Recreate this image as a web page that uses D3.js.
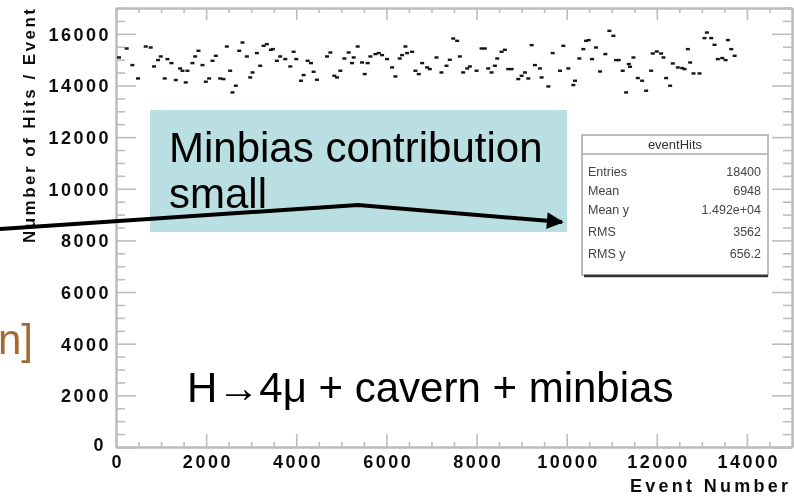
<!DOCTYPE html>
<html>
<head>
<meta charset="utf-8">
<script src="https://cdn.jsdelivr.net/npm/d3@7"></script>
<style>
  html, body { margin: 0; padding: 0; background: #fff; }
  svg { display: block; }
</style>
</head>
<body>
<svg id="chart" width="794" height="497"></svg>
<script>
// Event-by-event hit counts (event number, hits in that event)
const eventNumber = [
  67, 237, 363, 489, 659, 770, 844, 933, 993, 1081, 1141, 1230, 1326, 1422, 1474, 1548, 1585, 1696, 1756, 1830,
  1919, 1993, 2067, 2141, 2215, 2311, 2385, 2459, 2533, 2585, 2659, 2733, 2807, 2904, 2978, 3030, 3126, 3200, 3274, 3348,
  3437, 3482, 3570, 3644, 3756, 3867, 3941, 4000, 4104, 4163, 4252, 4326, 4385, 4459, 4682, 4756, 4844, 4904, 4978, 5067,
  5163, 5237, 5274, 5363, 5459, 5519, 5585, 5644, 5756, 5830, 5904, 6015, 6126, 6200, 6296, 6348, 6422, 6459, 6570, 6644,
  6718, 6793, 6904, 6963, 7111, 7222, 7333, 7407, 7482, 7570, 7630, 7704, 7793, 7852, 8000, 8111, 8185, 8259, 8333, 8407,
  8459, 8556, 8630, 8704, 8778, 8926, 9000, 9074, 9148, 9222, 9296, 9407, 9444, 9593, 9689, 9852, 9926, 10037, 10148, 10185,
  10281, 10370, 10430, 10489, 10563, 10652, 10741, 10859, 10948, 11037, 11096, 11156, 11244, 11319, 11378, 11407, 11481, 11578, 11674, 11763,
  11874, 11911, 12000, 12096, 12148, 12207, 12296, 12356, 12467, 12563, 12615, 12689, 12741, 12815, 12948, 13059, 13111, 13207, 13281, 13355,
  13452, 13526, 13578, 13652, 13726
];
const hitsPerEvent = [
  15084, 15432, 14790, 14272, 15509, 15470, 14736, 14983, 15123, 14272, 15022, 14867, 14210, 14659, 14570, 14118, 14570, 14867, 15123, 15343,
  14790, 14145, 14272, 14956, 15149, 14272, 14248, 15509, 14570, 13731, 13990, 15343, 15664, 15123, 14311, 14504, 15254, 14763, 15536, 15600,
  15381, 15408, 14956, 15123, 15022, 14736, 15304, 15022, 14183, 14403, 14956, 14867, 14531, 14222, 15123, 15277, 14376, 14311, 14570, 15045,
  15277, 14867, 15084, 15509, 14890, 14442, 14867, 15123, 15215, 15254, 15176, 15022, 14698, 14350, 15045, 15176, 15509, 15254, 15304, 14570,
  14442, 14867, 14698, 14635, 15084, 14504, 14763, 14995, 15818, 15729, 15123, 14504, 14659, 14736, 14570, 15432, 15432, 14659, 14504, 14763,
  15045, 15304, 15381, 14635, 14635, 14248, 14376, 14504, 14272, 15562, 14790, 14659, 14311, 13963, 15254, 14570, 15536, 14659, 14017, 14183,
  15045, 15408, 15729, 15756, 15022, 15470, 14543, 15215, 16116, 15922, 14983, 14983, 14570, 13731, 14829, 14724, 15084, 14287, 14183, 13797,
  14570, 15238, 15316, 15238, 15084, 14287, 13990, 14852, 14698, 14674, 14635, 15408, 14890, 14465, 14465, 15834, 16050, 15834, 15575, 15022,
  15061, 14983, 15756, 15408, 15149
];

// Axis tick values and labels
const xMajorTicks = [0, 2000, 4000, 6000, 8000, 10000, 12000, 14000];
const xTickLabels = ["0", "2000", "4000", "6000", "8000", "10000", "12000", "14000"];
const yMajorTicks = [0, 2000, 4000, 6000, 8000, 10000, 12000, 14000, 16000];
const yTickLabels = ["0", "2000", "4000", "6000", "8000", "10000", "12000", "14000", "16000"];

// Statistics box
const statTitle = "eventHits";
const statNames = ["Entries", "Mean", "Mean y", "RMS", "RMS y"];
const statValues = ["18400", "6948", "1.492e+04", "3562", "656.2"];

// Annotations
const noteText = ["Minbias contribution", "small"];
const processText = "H\u21924\u03bc + cavern + minbias";
const cutText = "n]";

const svg = d3.select("#chart");

const frame = { left: 116, right: 792, top: 8, bottom: 447 };
const x = d3.scaleLinear().domain([0, 15000]).range([frame.left, frame.right]);
const y = d3.scaleLinear().domain([0, 17000]).range([frame.bottom, frame.top]);

const defs = svg.append("defs");
defs.append("filter").attr("id", "soft")
  .attr("x", "-5%").attr("y", "-5%").attr("width", "110%").attr("height", "110%")
  .append("feGaussianBlur").attr("stdDeviation", 0.55);

const plot = svg.append("g").attr("filter", "url(#soft)");

const gridGrey = "#bdbdbd";
const labelFont = "'Liberation Sans', Arial, sans-serif";

const xMinor = d3.range(0, 15001, 500).filter(v => v % 2000 !== 0);
const yMinor = d3.range(0, 17001, 500).filter(v => v % 2000 !== 0);

function styleAxis(g) {
  g.selectAll("path.domain").attr("stroke", gridGrey).attr("stroke-width", 2);
  g.selectAll(".tick line").attr("stroke", gridGrey).attr("stroke-width", 1.6);
}

// bottom axis: inward ticks with labels
const bottom = plot.append("g").attr("transform", `translate(0,${frame.bottom})`)
  .call(d3.axisBottom(x).tickValues(xMajorTicks)
    .tickFormat((d, i) => xTickLabels[i]).tickSize(-13).tickSizeOuter(0).tickPadding(8));
plot.append("g").attr("transform", `translate(0,${frame.bottom})`)
  .call(d3.axisBottom(x).tickValues(xMinor).tickFormat("").tickSize(-5).tickSizeOuter(0))
  .call(styleAxis);
bottom.call(styleAxis);
bottom.selectAll("text")
  .attr("font-family", labelFont).attr("font-weight", "bold").attr("font-size", 18)
  .attr("letter-spacing", 2.5).attr("dx", 1.25).attr("fill", "#111");

// top axis: ticks only
plot.append("g").attr("transform", `translate(0,${frame.top})`)
  .call(d3.axisTop(x).tickValues(xMajorTicks).tickFormat("").tickSize(-12).tickSizeOuter(0))
  .call(styleAxis);
plot.append("g").attr("transform", `translate(0,${frame.top})`)
  .call(d3.axisTop(x).tickValues(xMinor).tickFormat("").tickSize(-5).tickSizeOuter(0))
  .call(styleAxis);

// left axis: inward ticks with labels
const left = plot.append("g").attr("transform", `translate(${frame.left},0)`)
  .call(d3.axisLeft(y).tickValues(yMajorTicks)
    .tickFormat((d, i) => yTickLabels[i]).tickSize(-20).tickSizeOuter(0).tickPadding(5));
plot.append("g").attr("transform", `translate(${frame.left},0)`)
  .call(d3.axisLeft(y).tickValues(yMinor).tickFormat("").tickSize(-9).tickSizeOuter(0))
  .call(styleAxis);
left.call(styleAxis);
left.selectAll("text")
  .attr("font-family", labelFont).attr("font-weight", "bold").attr("font-size", 18)
  .attr("letter-spacing", 2.5).attr("dy", "0.36em").attr("fill", "#111");
left.selectAll(".tick").filter(d => d === 0).select("text").attr("dy", "0.2em").attr("x", -10);

// right axis: ticks only
plot.append("g").attr("transform", `translate(${frame.right},0)`)
  .call(d3.axisRight(y).tickValues(yMajorTicks).tickFormat("").tickSize(-20).tickSizeOuter(0))
  .call(styleAxis);
plot.append("g").attr("transform", `translate(${frame.right},0)`)
  .call(d3.axisRight(y).tickValues(yMinor).tickFormat("").tickSize(-9).tickSizeOuter(0))
  .call(styleAxis);

// axis titles
plot.append("text")
  .attr("transform", `translate(35,9) rotate(-90)`)
  .attr("text-anchor", "end")
  .attr("font-family", labelFont).attr("font-weight", "bold").attr("font-size", 17)
  .attr("textLength", 234).attr("lengthAdjust", "spacing")
  .attr("fill", "#111")
  .text("Number of Hits / Event");

plot.append("text")
  .attr("x", 788).attr("y", 492)
  .attr("text-anchor", "end")
  .attr("font-family", labelFont).attr("font-weight", "bold").attr("font-size", 18)
  .attr("textLength", 158).attr("lengthAdjust", "spacing")
  .attr("fill", "#111")
  .text("Event Number");

// scatter of events
const points = eventNumber.map((e, i) => ({ e, h: hitsPerEvent[i] }));
plot.append("g").selectAll("rect").data(points).join("rect")
  .attr("x", d => x(d.e) - 2)
  .attr("y", d => y(d.h) - 1.2)
  .attr("width", 4).attr("height", 2.4)
  .attr("fill", "#151515");

// statistics box
const sb = { x0: 582, x1: 768, y0: 135, y1: 275, titleLine: 154 };
const stats = plot.append("g");
stats.append("rect")
  .attr("x", sb.x0).attr("y", sb.y0)
  .attr("width", sb.x1 - sb.x0).attr("height", sb.y1 - sb.y0)
  .attr("fill", "#fff").attr("stroke", "#a8a8a8").attr("stroke-width", 1.5);
stats.append("line")
  .attr("x1", sb.x0).attr("x2", sb.x1).attr("y1", sb.titleLine).attr("y2", sb.titleLine)
  .attr("stroke", "#a8a8a8").attr("stroke-width", 1.5);
stats.append("line")
  .attr("x1", sb.x0 + 2).attr("x2", sb.x1).attr("y1", sb.y1 + 1).attr("y2", sb.y1 + 1)
  .attr("stroke", "#333").attr("stroke-width", 2.5);
stats.append("text")
  .attr("x", (sb.x0 + sb.x1) / 2).attr("y", 149)
  .attr("text-anchor", "middle")
  .attr("font-family", labelFont).attr("font-size", 13).attr("fill", "#333")
  .text(statTitle);
const rowY = [176, 195, 214, 236, 258];
stats.selectAll("text.name").data(statNames).join("text")
  .attr("class", "name")
  .attr("x", 588).attr("y", (d, i) => rowY[i])
  .attr("font-family", labelFont).attr("font-size", 12.5).attr("fill", "#444")
  .text(d => d);
stats.selectAll("text.val").data(statValues).join("text")
  .attr("class", "val")
  .attr("x", 761).attr("y", (d, i) => rowY[i])
  .attr("text-anchor", "end")
  .attr("font-family", labelFont).attr("font-size", 12.5).attr("fill", "#444")
  .text(d => d);

// annotation box
const note = svg.append("g");
note.append("rect")
  .attr("x", 150).attr("y", 110).attr("width", 417).attr("height", 122)
  .attr("fill", "#badfe3");
note.selectAll("text").data(noteText).join("text")
  .attr("x", 169).attr("y", (d, i) => 162 + i * 46)
  .attr("font-family", labelFont).attr("font-size", 42).attr("fill", "#000")
  .text(d => d);

// process label
svg.append("text")
  .attr("x", 187).attr("y", 402)
  .attr("font-family", labelFont).attr("font-size", 42).attr("fill", "#000")
  .text(processText);

// bracket label running in from the left edge
svg.append("text")
  .attr("x", 33).attr("y", 354)
  .attr("text-anchor", "end")
  .attr("font-family", labelFont).attr("font-size", 42).attr("fill", "#a46a35")
  .text(cutText);

// arrow pointing to the statistics box
defs.append("marker").attr("id", "head")
  .attr("viewBox", "0 0 10 10").attr("refX", 9).attr("refY", 5)
  .attr("markerWidth", 4.6).attr("markerHeight", 4.2)
  .attr("orient", "auto").attr("markerUnits", "strokeWidth")
  .append("path").attr("d", "M0,0 L10,5 L0,10 Z").attr("fill", "#000");
svg.append("path")
  .attr("d", d3.line()([[0, 229], [358, 205], [562, 222]]))
  .attr("fill", "none").attr("stroke", "#000").attr("stroke-width", 4)
  .attr("marker-end", "url(#head)");
</script>
</body>
</html>
